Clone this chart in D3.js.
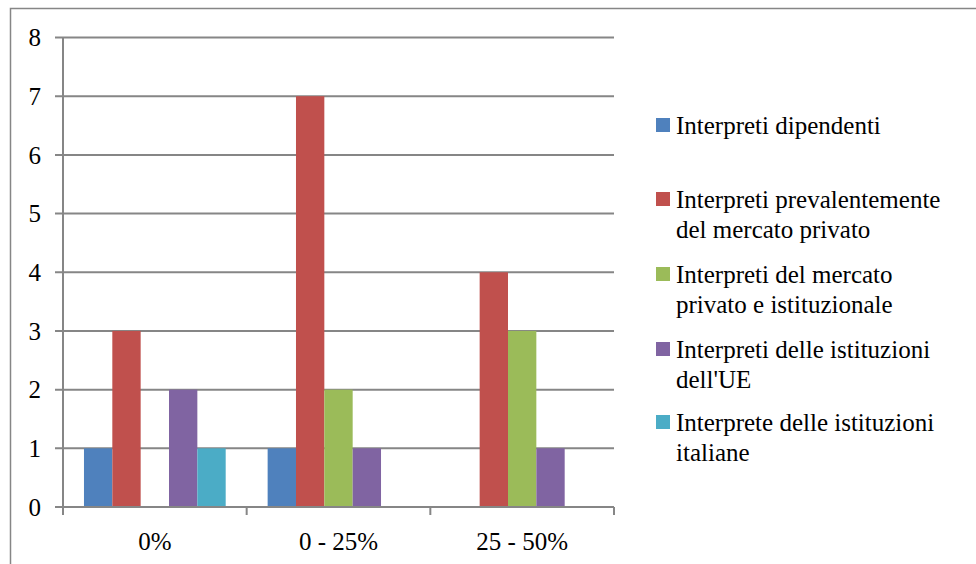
<!DOCTYPE html>
<html>
<head>
<meta charset="utf-8">
<script src="https://cdn.jsdelivr.net/npm/d3@7"></script>
<style>
  html, body { margin: 0; padding: 0; background: #fff; }
  svg { display: block; }
</style>
</head>
<body>
<svg id="chart" width="976" height="564" font-family="'Liberation Serif', Tinos, 'Noto Serif', 'DejaVu Serif', FreeSerif, 'Nimbus Roman', 'Times New Roman', serif"></svg>
<script>
// Categories (share of work) and counts per interpreter type
const categories = ["0%", "0 - 25%", "25 - 50%"];
const seriesNames = [
  "Interpreti dipendenti",
  "Interpreti prevalentemente del mercato privato",
  "Interpreti del mercato privato e istituzionale",
  "Interpreti delle istituzioni dell'UE",
  "Interprete delle istituzioni italiane"
];
const legendLines = [
  ["Interpreti dipendenti"],
  ["Interpreti prevalentemente", "del mercato privato"],
  ["Interpreti del mercato", "privato e istituzionale"],
  ["Interpreti delle istituzioni", "dell'UE"],
  ["Interprete delle istituzioni", "italiane"]
];
const dipendenti      = [1, 1, 0];
const mercatoPrivato  = [3, 7, 4];
const privatoIstituz  = [0, 2, 3];
const istituzioniUE   = [2, 1, 1];
const istituzioniIta  = [1, 0, 0];
const seriesValues = [dipendenti, mercatoPrivato, privatoIstituz, istituzioniUE, istituzioniIta];
const colors = ["#4F81BD", "#C0504D", "#9BBB59", "#8064A2", "#4BACC6"];
const yTicks = [0, 1, 2, 3, 4, 5, 6, 7, 8];

const svg = d3.select("#chart");
const axisColor = "#868686";

// outer chart frame
svg.append("rect")
  .attr("x", 10.5).attr("y", 8.5)
  .attr("width", 1000).attr("height", 600)
  .attr("fill", "none").attr("stroke", axisColor).attr("stroke-width", 1.5);

const plot = { left: 63, right: 614, top: 37.5, bottom: 507 };

const x0 = d3.scaleBand().domain(categories).range([plot.left, plot.right])
  .paddingInner(0).paddingOuter(0);
const x1 = d3.scaleBand().domain(d3.range(seriesNames.length))
  .range([0, x0.bandwidth()]).paddingOuter(0.74).paddingInner(0);
const y = d3.scaleLinear().domain([0, 8]).range([plot.bottom, plot.top]);

// horizontal gridlines with left tick marks
svg.append("g").selectAll("line").data(yTicks).join("line")
  .attr("x1", plot.left - 8).attr("x2", plot.right)
  .attr("y1", d => y(d)).attr("y2", d => y(d))
  .attr("stroke", axisColor).attr("stroke-width", 2);

// y tick labels
svg.append("g").selectAll("text").data(yTicks).join("text")
  .attr("x", 41).attr("y", d => y(d))
  .attr("dy", "0.35em")
  .attr("text-anchor", "end")
  .attr("font-size", 25)
  .text(d => d);

// bars
const groups = svg.append("g").selectAll("g").data(categories).join("g")
  .attr("transform", c => `translate(${x0(c)},0)`);
groups.selectAll("rect")
  .data((c, ci) => seriesValues.map((vals, si) => ({ si, v: vals[ci] })))
  .join("rect")
  .attr("x", d => x1(d.si))
  .attr("width", x1.bandwidth())
  .attr("y", d => y(d.v))
  .attr("height", d => y(0) - y(d.v))
  .attr("fill", d => colors[d.si]);

// y axis line
svg.append("line")
  .attr("x1", plot.left).attr("x2", plot.left)
  .attr("y1", plot.top).attr("y2", plot.bottom)
  .attr("stroke", axisColor).attr("stroke-width", 2);

// x axis baseline and category boundary ticks
svg.append("line")
  .attr("x1", plot.left - 8).attr("x2", plot.right)
  .attr("y1", plot.bottom).attr("y2", plot.bottom)
  .attr("stroke", axisColor).attr("stroke-width", 2);
const boundaries = categories.map(c => x0(c)).concat([plot.right]);
svg.append("g").selectAll("line").data(boundaries).join("line")
  .attr("x1", d => d).attr("x2", d => d)
  .attr("y1", plot.bottom).attr("y2", plot.bottom + 8)
  .attr("stroke", axisColor).attr("stroke-width", 2);

// category labels
svg.append("g").selectAll("text").data(categories).join("text")
  .attr("x", c => x0(c) + x0.bandwidth() / 2)
  .attr("y", 550)
  .attr("text-anchor", "middle")
  .attr("font-size", 25)
  .text(c => c);

// legend
const legendY = [125, 199, 274, 349, 422];
const lg = svg.append("g").selectAll("g").data(legendLines).join("g")
  .attr("transform", (d, i) => `translate(656,${legendY[i]})`);
lg.append("rect")
  .attr("x", 0).attr("y", -7).attr("width", 14).attr("height", 14)
  .attr("fill", (d, i) => colors[i]);
lg.append("text")
  .attr("x", 20).attr("y", 0)
  .attr("font-size", 25)
  .selectAll("tspan").data(d => d).join("tspan")
  .attr("x", 20)
  .attr("y", (d, i) => i * 30)
  .attr("dy", "0.35em")
  .text(d => d);
</script>
</body>
</html>
